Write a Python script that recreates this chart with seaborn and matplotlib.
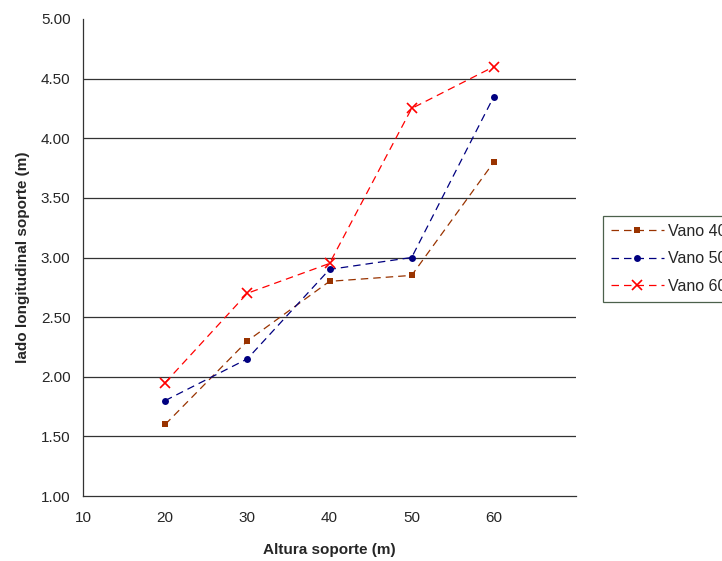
import pandas as pd
import numpy as np
import matplotlib.pyplot as plt
import seaborn as sns

altura = [20, 30, 40, 50, 60]
vano_40 = [1.60, 2.30, 2.80, 2.85, 3.80]
vano_50 = [1.80, 2.15, 2.90, 3.00, 4.35]
vano_60 = [1.95, 2.70, 2.95, 4.25, 4.60]
series = ["Vano 40", "Vano 50", "Vano 60"]
y_ticks = [1.0, 1.5, 2.0, 2.5, 3.0, 3.5, 4.0, 4.5, 5.0]
x_ticks = [10, 20, 30, 40, 50, 60]

df = pd.DataFrame({
    "altura": altura * 3,
    "lado": vano_40 + vano_50 + vano_60,
    "serie": [s for s in series for _ in altura],
})

sns.set_style("white")
plt.rcParams["font.family"] = ["Liberation Sans", "DejaVu Sans"]

fig = plt.figure(figsize=(7.22, 5.61), dpi=100)
ax = fig.add_axes([83 / 722, 1 - 496 / 561, 493 / 722, 477 / 561])

colors = ["#993300", "#000080", "#FF0000"]
sns.lineplot(data=df, x="altura", y="lado", hue="serie", style="serie",
             palette=colors, markers=["s", "o", "X"], dashes=[(6, 4)] * 3,
             linewidth=0.9, markersize=5, markeredgewidth=0, ax=ax, legend=False)

# thin cross marker like Excel
ax.lines[2].set_marker("x")
ax.lines[2].set_markersize(6.5)
ax.lines[2].set_markeredgewidth(1.2)
ax.lines[2].set_markeredgecolor(colors[2])

ax.set_xlim(10, 70)
ax.set_ylim(1.0, 5.0)
ax.set_xticks(x_ticks)
ax.set_yticks(y_ticks)
ax.set_yticklabels([f"{v:.2f}" for v in y_ticks], fontsize=11)
ax.set_xticklabels([str(v) for v in x_ticks], fontsize=11)
for v in y_ticks[1:-1]:
    ax.axhline(v, color="#333333", linewidth=0.9, zorder=0)

ax.spines["top"].set_visible(False)
ax.spines["right"].set_visible(False)
for s in ["left", "bottom"]:
    ax.spines[s].set_color("#333333")
    ax.spines[s].set_linewidth(0.9)
ax.tick_params(axis="both", direction="out", length=4, width=0.9, color="#333333", pad=5)
ax.tick_params(axis="x", pad=7)

ax.set_xlabel("Altura soporte (m)", fontsize=11, fontweight="bold", labelpad=13)
ax.set_ylabel("lado longitudinal soporte (m)", fontsize=11, fontweight="bold", labelpad=8)

handles = ax.lines[:3]
leg = fig.legend(handles, series, loc="upper left", bbox_to_anchor=(603 / 722, 1 - 216 / 561),
                 borderaxespad=0, frameon=True, fancybox=False, fontsize=11.5,
                 handlelength=3.3, borderpad=0.5, labelspacing=0.78, handletextpad=0.3)
leg.get_frame().set_edgecolor("#1f3a1f")
leg.get_frame().set_linewidth(0.9)

fig.savefig("out.png", dpi=100)
